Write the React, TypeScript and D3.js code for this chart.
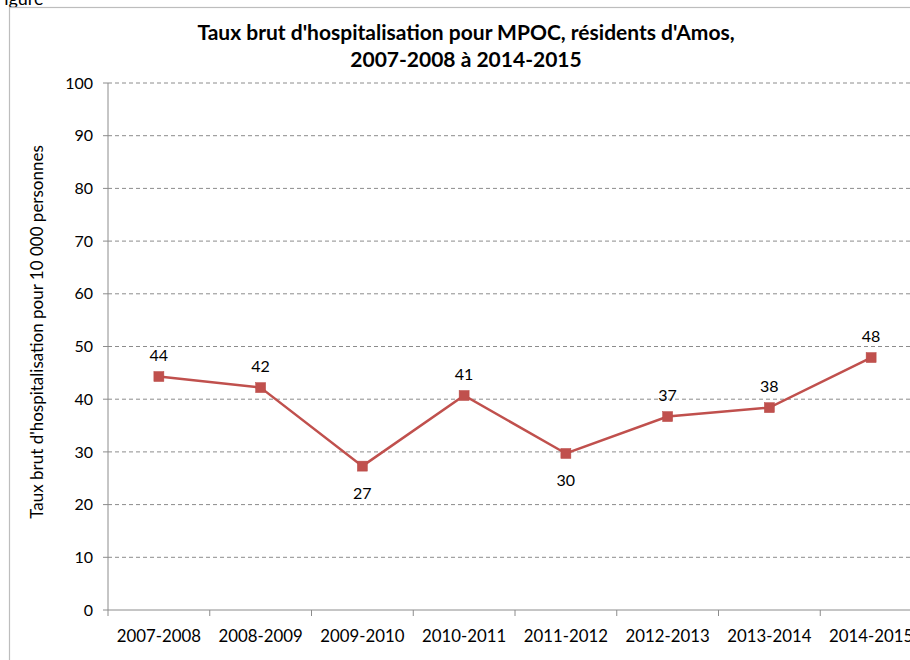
import React from "react";
import * as d3 from "d3";

const categories = ["2007-2008", "2008-2009", "2009-2010", "2010-2011", "2011-2012", "2012-2013", "2013-2014", "2014-2015"];
const values = [44.3, 42.2, 27.3, 40.7, 29.7, 36.7, 38.4, 47.9];
const labels = ["44", "42", "27", "41", "30", "37", "38", "48"];
const labelBelow = [false, false, true, false, true, false, false, false];
const yTicks = [0, 10, 20, 30, 40, 50, 60, 70, 80, 90, 100];
const titleLines = ["Taux brut d'hospitalisation pour MPOC, résidents d'Amos,", "2007-2008 à 2014-2015"];
const yTitle = "Taux brut d'hospitalisation pour 10 000 personnes";

const FONT = "Lato, 'Open Sans', sans-serif";

export default function App() {
  const W = 910, H = 660;
  const left = 108, right = 922, top = 83, bottom = 610;
  const x = d3.scaleBand<string>().domain(categories).range([left, right]);
  const y = d3.scaleLinear().domain([0, 100]).range([bottom, top]);
  const cx = (c: string) => (x(c) as number) + x.bandwidth() / 2;
  const line = d3.line<number>().x((_, i) => cx(categories[i])).y((v) => y(v));
  const red = "#C0504D";
  return (
    <svg width={W} height={H} style={{ position: "absolute", left: 0, top: 0, background: "#fff" }}>
      <text x={-6} y={5} fontFamily={FONT} fontSize={18} fill="#000">Figure</text>
      <rect x={9.5} y={7.5} width={1000} height={1000} fill="#fff" stroke="#BDBDBD" strokeWidth={1.2} />
      {titleLines.map((t, i) => (
        <text key={i} x={466} y={40 + i * 27} textAnchor="middle" fontFamily={FONT} fontWeight="bold" fontSize={21} fill="#000">{t}</text>
      ))}
      {yTicks.filter((t) => t > 0).map((t) => (
        <line key={t} x1={left} x2={W} y1={y(t)} y2={y(t)} stroke="#8C8C8C" strokeWidth={1} strokeDasharray="4,3" />
      ))}
      <line x1={left} x2={left} y1={top} y2={bottom} stroke="#8C8C8C" strokeWidth={1} />
      <line x1={left} x2={W} y1={bottom} y2={bottom} stroke="#8C8C8C" strokeWidth={1} />
      {yTicks.map((t) => (
        <g key={t}>
          <line x1={left - 5} x2={left} y1={y(t)} y2={y(t)} stroke="#8C8C8C" />
          <text x={left - 15} y={y(t)} dy="0.35em" textAnchor="end" fontFamily={FONT} fontSize={16} fill="#000">{t}</text>
        </g>
      ))}
      {categories.map((c) => (
        <g key={c}>
          <line x1={(x(c) as number) + x.bandwidth()} x2={(x(c) as number) + x.bandwidth()} y1={bottom} y2={bottom + 6} stroke="#8C8C8C" />
          <text x={cx(c)} y={642} textAnchor="middle" fontFamily={FONT} fontSize={16.8} fill="#000">{c}</text>
        </g>
      ))}
      <line x1={left} x2={left} y1={bottom} y2={bottom + 6} stroke="#8C8C8C" />
      <text transform={`translate(43,332) rotate(-90)`} textAnchor="middle" fontFamily={FONT} fontSize={17} fill="#000">{yTitle}</text>
      <path d={line(values) || ""} fill="none" stroke={red} strokeWidth={2.5} />
      {values.map((v, i) => (
        <rect key={i} x={cx(categories[i]) - 5} y={y(v) - 5} width={10} height={10} fill={red} stroke="#B94A47" strokeWidth={0.5} />
      ))}
      {values.map((v, i) => (
        <text key={i} x={cx(categories[i])} y={labelBelow[i] ? y(v) + 33 : y(v) - 16} textAnchor="middle" fontFamily={FONT} fontSize={16} fill="#000">{labels[i]}</text>
      ))}
    </svg>
  );
}
